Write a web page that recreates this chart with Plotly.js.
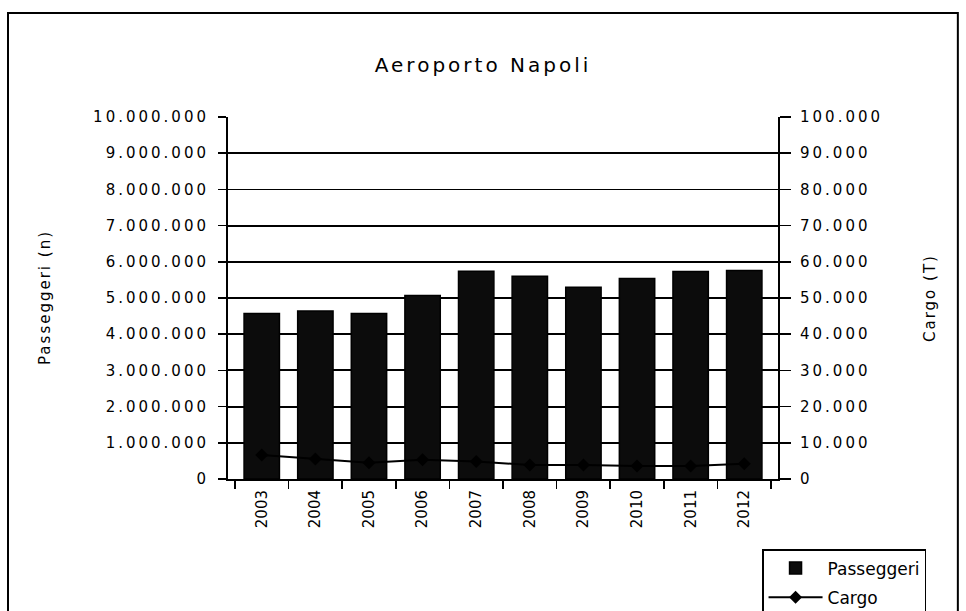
<!DOCTYPE html>
<html>
<head>
<meta charset="utf-8">
<script src="https://cdn.plot.ly/plotly-3.0.1.min.js"></script>
<style>
  html, body { margin: 0; padding: 0; background: #fff; }
  #chart { width: 966px; height: 611px; }
  #chart .ytick text, #chart .y2tick text { letter-spacing: 3px; }
  #chart .gtitle { letter-spacing: 3px; }
  #chart .annotation-text { letter-spacing: 2px; }
</style>
</head>
<body>
<div id="chart"></div>
<script>
// Data
const years = ["2003","2004","2005","2006","2007","2008","2009","2010","2011","2012"];
const passeggeri = [4570000, 4640000, 4570000, 5070000, 5740000, 5600000, 5300000, 5540000, 5730000, 5760000];
const cargo = [6600, 5500, 4500, 5300, 4800, 3900, 3900, 3600, 3600, 4200];
const titles = { chart: "Aeroporto Napoli", left: "Passeggeri (n)", right: "Cargo (T)" };

const FONT = "DejaVu Sans, Verdana, sans-serif";

const traces = [
  {
    type: "bar",
    name: "Passeggeri",
    legendgroup: "p",
    x: years,
    y: passeggeri,
    width: 0.66,
    marker: { color: "#0c0c0c", line: { color: "#000", width: 1.5 } },
    yaxis: "y"
  },
  {
    type: "scatter",
    mode: "lines+markers",
    name: "Cargo",
    legendgroup: "c",
    x: years,
    y: cargo,
    yaxis: "y2",
    line: { color: "#000", width: 2 },
    marker: { symbol: "diamond", size: 10, color: "#000" }
  }
];

const layout = {
  width: 966,
  height: 611,
  paper_bgcolor: "#fff",
  plot_bgcolor: "rgba(0,0,0,0)",
  separators: ",.",
  margin: { l: 228, r: 188, t: 117, b: 132, autoexpand: false },
  font: { family: FONT, color: "#000", size: 14 },
  title: {
    text: titles.chart,
    font: { family: FONT, size: 20, color: "#000" },
    x: 0.5, xref: "container", xanchor: "center",
    y: 0.893, yref: "container", yanchor: "middle"
  },
  showlegend: true,
  legend: {
    x: 0.971, y: -0.1934, xanchor: "left", yanchor: "top",
    bgcolor: "#fff",
    bordercolor: "#000", borderwidth: 1.5,
    font: { family: FONT, size: 17, color: "#000" },
    tracegroupgap: 4,
    itemwidth: 54
  },
  xaxis: {
    type: "category",
    showline: true, linecolor: "#000", linewidth: 2,
    ticks: "outside", ticklen: 8, tickwidth: 1.5, tickcolor: "#000",
    tickson: "boundaries",
    tickangle: -90,
    ticklabelstandoff: 3,
    tickfont: { family: FONT, size: 15, color: "#000" },
    showgrid: false,
    zeroline: false,
    automargin: false
  },
  yaxis: {
    range: [0, 10000000],
    dtick: 1000000,
    tickformat: ",d",
    showline: true, linecolor: "#000", linewidth: 2,
    ticks: "outside", ticklen: 8, tickwidth: 1.5, tickcolor: "#000",
    ticklabelstandoff: 6,
    showgrid: true, gridcolor: "#000", gridwidth: 1.8,
    zeroline: false,
    tickfont: { family: FONT, size: 15, color: "#000" },
    automargin: false
  },
  yaxis2: {
    range: [0, 100000],
    dtick: 10000,
    tickformat: ",d",
    overlaying: "y",
    side: "right",
    showline: true, linecolor: "#000", linewidth: 2,
    ticks: "outside", ticklen: 11, tickwidth: 1.5, tickcolor: "#000",
    ticklabelstandoff: 6,
    showgrid: false,
    zeroline: false,
    tickfont: { family: FONT, size: 15, color: "#000" },
    automargin: false
  },
  annotations: [
    {
      text: titles.left, xref: "paper", yref: "paper", x: 0, y: 0.5,
      xshift: -183, textangle: -90, showarrow: false,
      xanchor: "center", yanchor: "middle",
      font: { family: FONT, size: 15, color: "#000" }
    },
    {
      text: titles.right, xref: "paper", yref: "paper", x: 1, y: 0.5,
      xshift: 152, textangle: -90, showarrow: false,
      xanchor: "center", yanchor: "middle",
      font: { family: FONT, size: 15, color: "#000" }
    }
  ],
  shapes: [
    {
      type: "rect", xref: "paper", yref: "paper",
      x0: -0.4, x1: 1.327, y0: -0.4, y1: 1.287,
      line: { color: "#000", width: 2 }, fillcolor: "rgba(0,0,0,0)",
      layer: "below"
    }
  ]
};

Plotly.newPlot("chart", traces, layout, { displayModeBar: false, staticPlot: true });
</script>
</body>
</html>
